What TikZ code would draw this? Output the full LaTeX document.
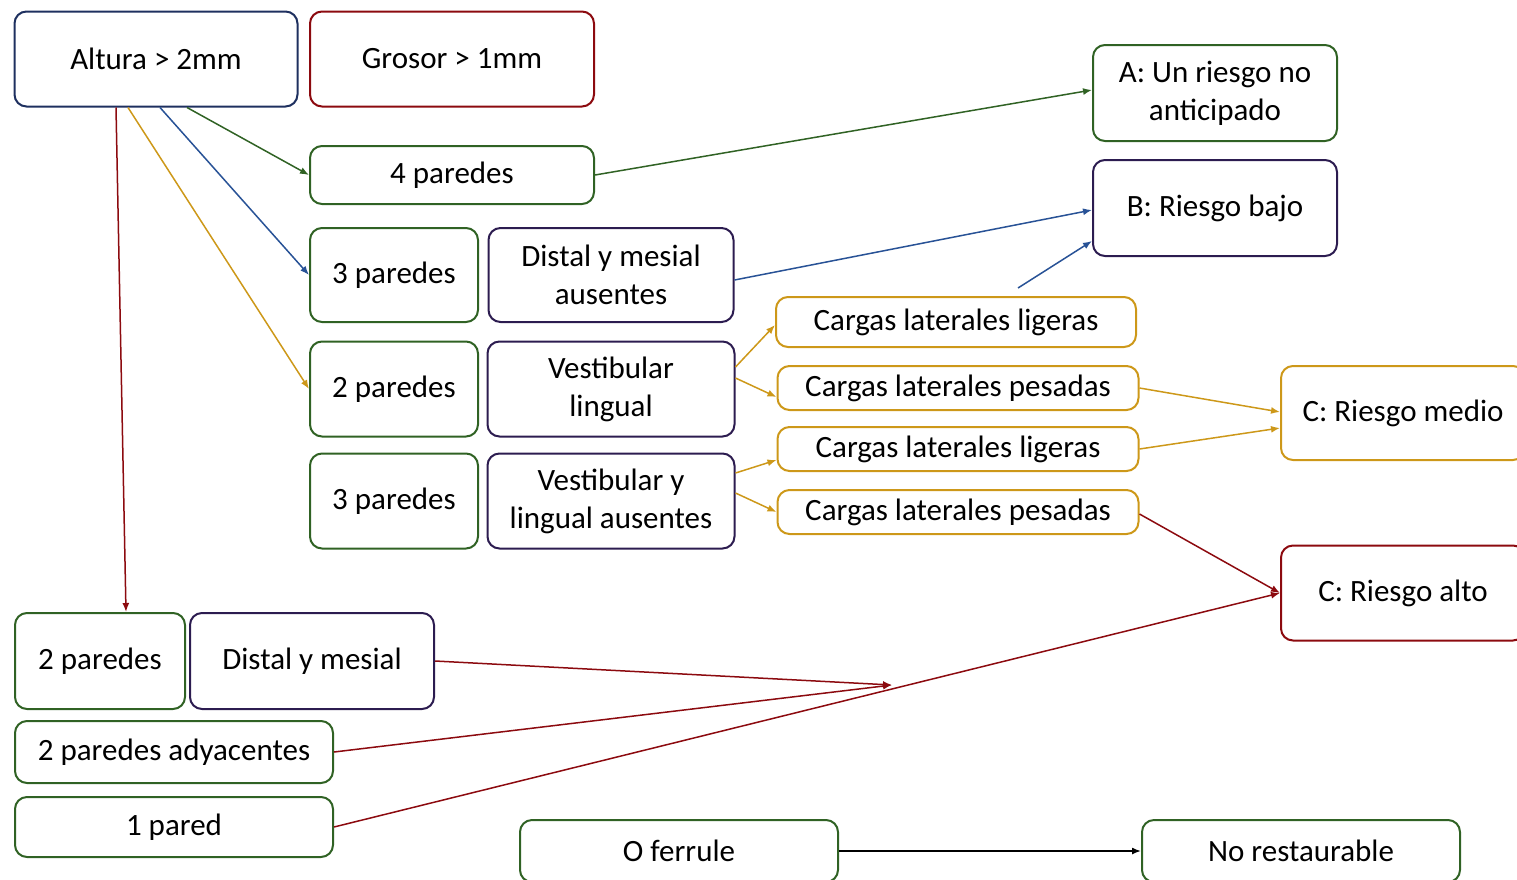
\documentclass[tikz,border=0pt]{standalone}
\usepackage{fontspec}
\setmainfont{Carlito}
\usepackage{tikz}
\usetikzlibrary{arrows.meta,positioning}
\definecolor{verde}{RGB}{48,98,36}
\definecolor{azul}{RGB}{40,82,150}
\definecolor{oro}{RGB}{205,152,25}
\definecolor{rojo}{RGB}{140,10,15}
\definecolor{morado}{RGB}{44,28,80}
\definecolor{marino}{RGB}{30,48,95}

\begin{document}
\begin{tikzpicture}[x=1pt, y=-1pt,
        caja/.style={draw, rounded corners=12pt, line width=2pt, align=center,
            inner sep=0pt, font=\fontsize{31}{38}\selectfont},
        flecha/.style={-{Latex[length=9pt,width=7pt]}, line width=1.5pt}]
        \useasboundingbox (0,0) rectangle (1517,879);

        \node (alt) [caja, draw=marino, minimum width=283pt, minimum height=95pt] at (156,59) {Altura > 2mm};
        \node (gro) [caja, draw=rojo, minimum width=284pt, minimum height=95pt] at (452,59) {Grosor > 1mm};
        \node (p4) [caja, draw=verde, minimum width=284pt, minimum height=58pt] at (452,175) {4 paredes};
        \node (A) [caja, draw=verde, minimum width=244pt, minimum height=96pt] at (1215,93) {A: Un riesgo no\\anticipado};
        \node (B) [caja, draw=morado, minimum width=244pt, minimum height=96pt] at (1215,208) {B: Riesgo bajo};

        \node (p3a) [caja, draw=verde, minimum width=168pt, minimum height=94pt] at (394,275) {3 paredes};
        \node (dma) [caja, draw=morado, minimum width=245pt, minimum height=94pt] at (611,275) {Distal y mesial\\ausentes};
        \node (p2a) [caja, draw=verde, minimum width=168pt, minimum height=95pt] at (394,389) {2 paredes};
        \node (vl) [caja, draw=morado, minimum width=247pt, minimum height=95pt] at (611,389) {Vestibular\\lingual};
        \node (p3b) [caja, draw=verde, minimum width=168pt, minimum height=95pt] at (394,501) {3 paredes};
        \node (vla) [caja, draw=morado, minimum width=247pt, minimum height=95pt] at (611,501) {Vestibular y\\lingual ausentes};

        \node (lig1) [caja, draw=oro, minimum width=360pt, minimum height=50pt] at (956,322) {Cargas laterales ligeras};
        \node (pes1) [caja, draw=oro, minimum width=361pt, minimum height=44pt] at (958,388) {Cargas laterales pesadas};
        \node (lig2) [caja, draw=oro, minimum width=361pt, minimum height=44pt] at (958,449) {Cargas laterales ligeras};
        \node (pes2) [caja, draw=oro, minimum width=361pt, minimum height=44pt] at (958,512) {Cargas laterales pesadas};

        \node (medio) [caja, draw=oro, minimum width=244pt, minimum height=94pt] at (1403,413) {C: Riesgo medio};
        \node (alto) [caja, draw=rojo, minimum width=244pt, minimum height=95pt] at (1403,593) {C: Riesgo alto};

        \node (p2b) [caja, draw=verde, minimum width=170pt, minimum height=96pt] at (100,661) {2 paredes};
        \node (dm) [caja, draw=morado, minimum width=244pt, minimum height=96pt] at (312,661) {Distal y mesial};
        \node (ady) [caja, draw=verde, minimum width=318pt, minimum height=62pt] at (174,752) {2 paredes adyacentes};
        \node (p1) [caja, draw=verde, minimum width=318pt, minimum height=60pt] at (174,827) {1 pared};

        \node (fer) [caja, draw=verde, minimum width=318pt, minimum height=62pt] at (679,851) {O ferrule};
        \node (nr) [caja, draw=verde, minimum width=318pt, minimum height=62pt] at (1301,851) {No restaurable};

        \coordinate (bajo) at (1018,288);
        \coordinate (junta) at (892,685);

        \draw[flecha, verde] ([xshift=31pt]alt.south) -- (p4.west);
        \draw[flecha, azul] ([xshift=4pt]alt.south) -- (p3a.west);
        \draw[flecha, oro] ([xshift=-28pt]alt.south) -- (p2a.west);
        \draw[flecha, rojo] ([xshift=-40pt]alt.south) -- ([xshift=26pt]p2b.north);

        \draw[flecha, verde] (p4.east) -- ([yshift=3pt]A.west);
        \draw[flecha, azul] ([yshift=-5pt]dma.east) -- ([yshift=-2pt]B.west);
        \draw[flecha, azul] (bajo) -- ([yshift=16pt]B.south west);

        \draw[flecha, oro] ([yshift=22pt]vl.east) -- ([yshift=-3pt]lig1.west);
        \draw[flecha, oro] ([yshift=11pt]vl.east) -- ([yshift=-9pt]pes1.west);
        \draw[flecha, oro] ([yshift=28pt]vla.east) -- ([yshift=-11pt]lig2.west);
        \draw[flecha, oro] ([yshift=8pt]vla.east) -- (pes2.west);

        \draw[flecha, oro] (pes1.east) -- ([yshift=1pt]medio.west);
        \draw[flecha, oro] (lig2.east) -- ([yshift=-15pt]medio.west);
        \draw[flecha, rojo] ([yshift=-2pt]pes2.east) -- (alto.west);

        \draw[flecha, rojo] (dm.east) -- (junta);
        \draw[flecha, rojo] (ady.east) -- (junta);
        \draw[flecha, rojo] (p1.east) -- (alto.west);

        \draw[flecha, black] (fer.east) -- (nr.west);
    \end{tikzpicture}
\end{document}
